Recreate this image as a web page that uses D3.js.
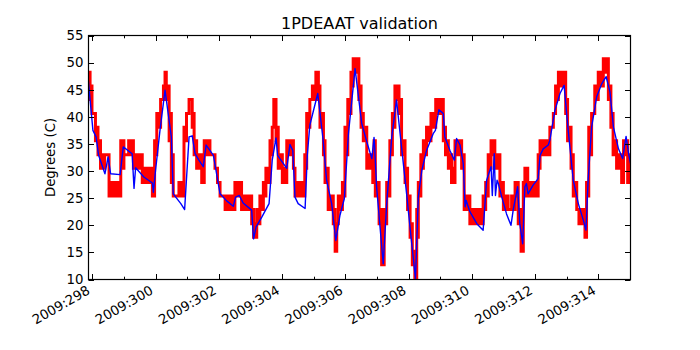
<!DOCTYPE html>
<html>
<head>
<meta charset="utf-8">
<script src="https://cdn.jsdelivr.net/npm/d3@7"></script>
<style>
  body { margin: 0; background: #fff; }
  svg { display: block; font-family: 'DejaVu Sans', sans-serif; }
</style>
</head>
<body>
<div id="chart"></div>
<script>
// Red: quantized telemetry, [day, low, high] (low != high where it flickers between two counts)
const redSteps = [
  [297.87, 45.7, 48.2], [297.93, 43.2, 45.7], [297.99, 40.6, 40.6], [298.10, 35.6, 38.1],
  [298.18, 33.0, 35.6], [298.26, 30.5, 33.0], [298.39, 33.0, 33.0], [298.53, 25.4, 27.9],
  [298.90, 30.5, 35.6], [299.00, 33.0, 33.0], [299.15, 33.0, 35.6], [299.30, 30.5, 33.0],
  [299.58, 27.9, 30.5], [299.90, 25.4, 27.9], [299.97, 33.0, 35.6], [300.04, 38.1, 40.6],
  [300.16, 43.2, 43.2], [300.25, 45.7, 45.7], [300.30, 48.2, 48.2], [300.34, 43.2, 45.7],
  [300.43, 35.6, 40.6], [300.50, 27.9, 33.0], [300.56, 25.4, 25.4], [300.74, 25.4, 27.9],
  [300.90, 35.6, 38.1], [300.98, 40.6, 40.6], [301.06, 43.2, 43.2], [301.16, 38.1, 40.6],
  [301.22, 33.0, 35.6], [301.30, 30.5, 33.0], [301.46, 27.9, 30.5], [301.54, 33.0, 35.6],
  [301.72, 33.0, 33.0], [301.88, 30.5, 30.5], [301.96, 27.9, 27.9], [302.04, 25.4, 25.4],
  [302.20, 22.9, 25.4], [302.51, 25.4, 27.9], [302.72, 22.9, 25.4], [303.04, 20.3, 22.9],
  [303.10, 17.8, 20.3], [303.20, 20.3, 22.9], [303.30, 22.9, 25.4], [303.41, 25.4, 27.9],
  [303.49, 27.9, 30.5], [303.62, 33.0, 35.6], [303.69, 38.1, 38.1], [303.74, 43.2, 43.2],
  [303.81, 35.6, 38.1], [303.88, 30.5, 33.0], [304.01, 27.9, 30.5], [304.15, 33.0, 35.6],
  [304.36, 30.5, 30.5], [304.41, 25.4, 27.9], [304.72, 30.5, 33.0], [304.78, 38.1, 40.6],
  [304.88, 43.2, 43.2], [304.96, 43.2, 45.7], [305.07, 45.7, 48.2], [305.15, 43.2, 45.7],
  [305.20, 38.1, 40.6], [305.31, 33.0, 35.6], [305.36, 27.9, 30.5], [305.46, 22.9, 25.4],
  [305.62, 20.3, 22.9], [305.68, 15.2, 20.3], [305.73, 20.3, 20.3], [305.78, 22.9, 25.4],
  [305.91, 25.4, 27.9], [305.99, 33.0, 38.1], [306.08, 40.6, 43.2], [306.18, 45.7, 48.2],
  [306.25, 48.2, 50.7], [306.43, 43.2, 45.7], [306.50, 38.1, 40.6], [306.57, 35.6, 38.1],
  [306.68, 30.5, 33.0], [306.87, 27.9, 30.5], [306.91, 33.0, 35.6], [306.95, 25.4, 27.9],
  [307.07, 20.3, 22.9], [307.15, 12.7, 17.8], [307.23, 20.3, 22.9], [307.31, 25.4, 27.9],
  [307.41, 33.0, 35.6], [307.49, 38.1, 40.6], [307.57, 43.2, 45.7], [307.70, 40.6, 43.2],
  [307.78, 33.0, 35.6], [307.89, 27.9, 30.5], [307.97, 22.9, 25.4], [308.05, 17.8, 20.3],
  [308.12, 12.7, 15.2], [308.20, 10.2, 12.7], [308.26, 17.8, 22.9], [308.31, 25.4, 27.9],
  [308.39, 30.5, 33.0], [308.47, 33.0, 35.6], [308.57, 35.6, 38.1], [308.71, 38.1, 40.6],
  [308.86, 40.6, 43.2], [309.10, 35.6, 38.1], [309.17, 33.0, 35.6], [309.26, 30.5, 33.0],
  [309.36, 27.9, 30.5], [309.47, 33.0, 35.6], [309.68, 30.5, 33.0], [309.76, 22.9, 25.4],
  [309.94, 20.3, 22.9], [310.36, 22.9, 25.4], [310.44, 25.4, 27.9], [310.52, 30.5, 33.0],
  [310.61, 33.0, 35.6], [310.73, 30.5, 33.0], [310.89, 25.4, 27.9], [311.00, 22.9, 25.4],
  [311.15, 22.9, 22.9], [311.26, 22.9, 25.4], [311.37, 25.4, 27.9], [311.47, 20.3, 22.9],
  [311.56, 15.2, 17.8], [311.63, 25.4, 27.9], [311.68, 27.9, 30.5], [311.77, 25.4, 27.9],
  [312.10, 30.5, 33.0], [312.16, 33.0, 35.6], [312.47, 38.1, 38.1], [312.58, 40.6, 40.6],
  [312.65, 43.2, 45.7], [312.74, 45.7, 48.2], [312.97, 40.6, 43.2], [313.03, 35.6, 38.1],
  [313.14, 30.5, 33.0], [313.21, 25.4, 27.9], [313.32, 22.9, 22.9], [313.39, 20.3, 22.9],
  [313.58, 17.8, 20.3], [313.63, 25.4, 27.9], [313.70, 33.0, 38.1], [313.79, 40.6, 40.6],
  [313.89, 43.2, 45.7], [314.00, 45.7, 48.2], [314.16, 48.2, 50.7], [314.32, 43.2, 45.7],
  [314.40, 38.1, 40.6], [314.47, 33.0, 35.6], [314.58, 30.5, 33.0], [314.74, 27.9, 30.5],
  [314.80, 33.0, 35.6], [314.93, 27.9, 33.0], [315.02, 27.9, 33.0],
];

// Blue: model prediction, [day, degC]
const bluePoints = [
  [297.87, 47.0], [298.02, 37.5], [298.12, 36.3], [298.20, 32.9], [298.40, 29.5], [298.50, 32.6],
  [298.58, 29.5], [298.88, 29.35], [298.98, 34.45], [299.26, 33.2], [299.32, 26.8], [299.37, 30.6],
  [299.63, 28.9], [299.90, 27.8], [299.93, 26.1], [300.00, 30.1], [300.14, 37.5], [300.30, 44.9],
  [300.50, 36.3], [300.56, 25.8], [300.80, 24.0], [300.92, 22.9], [301.06, 36.3], [301.16, 36.5],
  [301.25, 33.2], [301.37, 32.0], [301.51, 30.8], [301.60, 34.8], [301.83, 32.9], [302.04, 25.8],
  [302.25, 24.5], [302.46, 23.5], [302.53, 25.2], [302.65, 25.5], [302.77, 24.1], [303.04, 22.8],
  [303.10, 17.5], [303.18, 19.7], [303.36, 21.5], [303.59, 24.0], [303.69, 32.0], [303.81, 36.1],
  [303.86, 32.9], [304.15, 30.5], [304.25, 34.9], [304.34, 33.8], [304.41, 25.2], [304.51, 24.0],
  [304.73, 23.1], [304.80, 33.0], [304.88, 38.5], [305.13, 44.3], [305.30, 35.7], [305.41, 28.3],
  [305.57, 24.0], [305.70, 17.2], [305.83, 21.8], [305.97, 24.9], [306.10, 36.9], [306.31, 48.9],
  [306.52, 38.8], [306.68, 35.4], [306.84, 32.3], [306.91, 36.2], [306.93, 34.4], [306.99, 27.1],
  [307.20, 12.9], [307.31, 24.0], [307.47, 36.3], [307.62, 43.1], [307.78, 34.4], [307.94, 25.8],
  [308.08, 17.8], [308.22, 10.2], [308.31, 25.2], [308.42, 30.1], [308.57, 33.8], [308.78, 36.9],
  [308.85, 37.5], [308.96, 41.3], [309.10, 40.6], [309.15, 36.3], [309.31, 33.8], [309.45, 32.0],
  [309.52, 36.0], [309.63, 34.8], [309.73, 31.4], [309.79, 23.4], [309.82, 24.6], [309.94, 22.5],
  [310.16, 20.3], [310.36, 19.1], [310.47, 28.3], [310.61, 30.8], [310.65, 25.5], [310.71, 33.2],
  [310.75, 25.5], [310.80, 28.3], [310.84, 27.7], [310.95, 25.2], [311.10, 22.1], [311.24, 20.0],
  [311.31, 22.8], [311.45, 27.1], [311.52, 20.3], [311.61, 16.6], [311.68, 27.1], [311.73, 27.7],
  [311.78, 25.8], [311.94, 27.4], [312.10, 28.6], [312.16, 32.9], [312.26, 34.1], [312.42, 34.8],
  [312.47, 35.7], [312.63, 41.2], [312.79, 44.3], [312.92, 45.8], [313.05, 37.5], [313.21, 28.3],
  [313.37, 24.0], [313.53, 20.9], [313.61, 19.1], [313.68, 28.3], [313.79, 38.1], [313.95, 43.7],
  [314.11, 46.1], [314.25, 47.4], [314.37, 44.6], [314.48, 38.1], [314.64, 34.1], [314.77, 32.3],
  [314.88, 36.4], [314.96, 33.2], [315.02, 31.4],
];

const yTicks = [10, 15, 20, 25, 30, 35, 40, 45, 50, 55];
const xMajorDays = [298, 300, 302, 304, 306, 308, 310, 312, 314];
const xMinorDays = [299, 301, 303, 305, 307, 309, 311, 313];
const xTickLabels = ['2009:298', '2009:300', '2009:302', '2009:304', '2009:306',
  '2009:308', '2009:310', '2009:312', '2009:314'];

const width = 700;
const height = 350;
const plot = { left: 88.5, right: 630.5, top: 35.5, bottom: 279.5 };

const svg = d3.select('#chart').append('svg')
  .attr('width', width)
  .attr('height', height);

const x = d3.scaleLinear()
  .domain([297.88, 315.02])
  .range([plot.left, plot.right]);

const y = d3.scaleLinear()
  .domain([10, 55])
  .range([plot.bottom, plot.top]);

svg.append('clipPath')
  .attr('id', 'plot-clip')
  .append('rect')
  .attr('x', plot.left)
  .attr('y', plot.top)
  .attr('width', plot.right - plot.left)
  .attr('height', plot.bottom - plot.top);

const marks = svg.append('g').attr('clip-path', 'url(#plot-clip)');

// Red telemetry as a stepped band
const redArea = d3.area()
  .curve(d3.curveStepAfter)
  .x(d => x(d[0]))
  .y0(d => y(d[1]))
  .y1(d => y(d[2]));

marks.append('path')
  .datum(redSteps)
  .attr('fill', '#ff0000')
  .attr('stroke', '#ff0000')
  .attr('stroke-width', 3)
  .attr('d', redArea);

// Blue model line
const blueLine = d3.line()
  .x(d => x(d[0]))
  .y(d => y(d[1]));

marks.append('path')
  .datum(bluePoints)
  .attr('fill', 'none')
  .attr('stroke', '#0000ff')
  .attr('stroke-width', 1.4)
  .attr('stroke-linejoin', 'round')
  .attr('d', blueLine);

// Ticks point inward on all four sides, matplotlib style
const ticks = svg.append('g')
  .attr('stroke', '#000')
  .attr('stroke-width', 1);

const tickSets = [
  { days: xMajorDays, len: 5.5 },
  { days: xMinorDays, len: 2.8 },
];

tickSets.forEach(set => {
  set.days.forEach(d => {
    const px = Math.round(x(d)) + 0.5;
    ticks.append('line').attr('x1', px).attr('x2', px)
      .attr('y1', plot.bottom).attr('y2', plot.bottom - set.len);
    ticks.append('line').attr('x1', px).attr('x2', px)
      .attr('y1', plot.top).attr('y2', plot.top + set.len);
  });
});

yTicks.forEach(v => {
  const py = Math.round(y(v)) + 0.5;
  ticks.append('line').attr('x1', plot.left).attr('x2', plot.left + 5.5)
    .attr('y1', py).attr('y2', py);
  ticks.append('line').attr('x1', plot.right).attr('x2', plot.right - 5.5)
    .attr('y1', py).attr('y2', py);
});

// Frame
svg.append('rect')
  .attr('x', plot.left)
  .attr('y', plot.top)
  .attr('width', plot.right - plot.left)
  .attr('height', plot.bottom - plot.top)
  .attr('fill', 'none')
  .attr('stroke', '#000')
  .attr('stroke-width', 1.2);

// Y tick labels
svg.append('g')
  .selectAll('text')
  .data(yTicks)
  .join('text')
  .attr('x', plot.left - 5)
  .attr('y', d => y(d))
  .attr('dy', '0.36em')
  .attr('text-anchor', 'end')
  .attr('font-size', 13.3)
  .text(d => d);

// X tick labels, rotated 30 degrees
svg.append('g')
  .selectAll('text')
  .data(xMajorDays)
  .join('text')
  .attr('text-anchor', 'end')
  .attr('font-size', 13.3)
  .attr('transform', d => `translate(${x(d) - 1.5}, ${plot.bottom + 13.5}) rotate(-30)`)
  .text((d, i) => xTickLabels[i]);

// Title and axis label
svg.append('text')
  .attr('x', (plot.left + plot.right) / 2)
  .attr('y', 29)
  .attr('text-anchor', 'middle')
  .attr('font-size', 16)
  .text('1PDEAAT validation');

svg.append('text')
  .attr('transform', `translate(55, ${(plot.top + plot.bottom) / 2}) rotate(-90)`)
  .attr('text-anchor', 'middle')
  .attr('font-size', 13.3)
  .text('Degrees (C)');
</script>
</body>
</html>
